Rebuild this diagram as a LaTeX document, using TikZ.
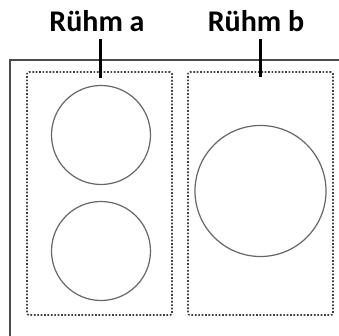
\documentclass[tikz,border=0pt]{standalone}
\usepackage{fontspec}
\setmainfont{Carlito}
\begin{document}
\begin{tikzpicture}[x=1pt,y=-1pt,
  frame/.style={draw=black!70,line width=1.8pt},
  zone/.style={draw=black!75,line width=1.6pt,dash pattern=on 1.7pt off 1.7pt,rounded corners=2pt},
  plate/.style={draw=black!60,line width=1.2pt},
  tick/.style={draw=black,line width=3pt},
  lbl/.style={font=\bfseries\fontsize{30}{33}\selectfont,inner sep=0pt,anchor=base}]
\useasboundingbox (0,0) rectangle (339,336);
\draw[frame] (340,60) -- (10,60) -- (10,337);
\node[zone,minimum width=145pt,minimum height=243pt,inner sep=0pt] (za) at (99.5,193.5) {};
\node[zone,minimum width=145pt,minimum height=243pt,inner sep=0pt] (zb) at (260.5,193.5) {};
\node[plate,circle,minimum size=99pt,inner sep=0pt] (a1) at (101,135) {};
\node[plate,circle,minimum size=99pt,inner sep=0pt] (a2) at (101,251) {};
\node[plate,circle,minimum size=131pt,inner sep=0pt] (b1) at (260.5,191) {};
\node[lbl] (la) at (97,32) {Rühm a};
\node[lbl] (lb) at (256,32) {Rühm b};
\coordinate (ta0) at (100,39);
\coordinate (ta1) at (100,78);
\coordinate (tb0) at (260,39);
\coordinate (tb1) at (260,77);
\draw[tick] (ta0) -- (ta1);
\draw[tick] (tb0) -- (tb1);
\end{tikzpicture}
\end{document}
